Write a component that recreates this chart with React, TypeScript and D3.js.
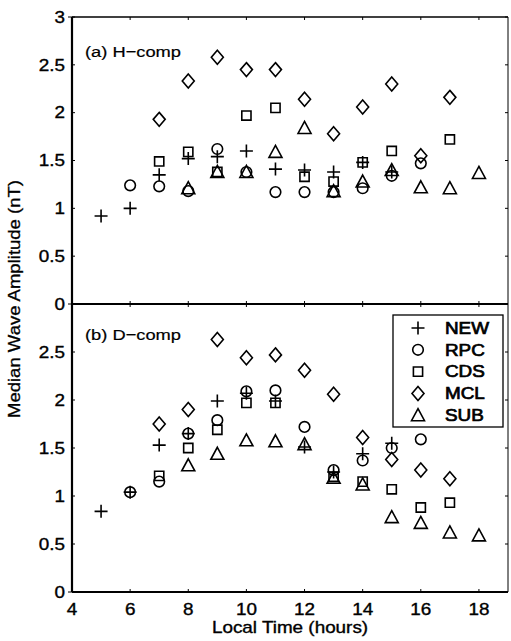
import React from 'react';
import * as d3 from 'd3';

// Panel (a) H-comp: local hour and median amplitude (nT) per station
const hNewHours = [5, 6, 7, 8, 9, 10, 11, 12, 13, 14, 15];
const hNewVals = [0.92, 1.0, 1.35, 1.52, 1.54, 1.6, 1.41, 1.4, 1.38, 1.48, 1.38];
const hRpcHours = [6, 7, 8, 9, 10, 11, 12, 13, 14, 15, 16];
const hRpcVals = [1.24, 1.23, 1.18, 1.62, 1.38, 1.17, 1.17, 1.17, 1.21, 1.34, 1.47];
const hCdsHours = [7, 8, 9, 10, 11, 12, 13, 14, 15, 17];
const hCdsVals = [1.49, 1.59, 1.38, 1.97, 2.05, 1.33, 1.28, 1.48, 1.6, 1.72];
const hMclHours = [7, 8, 9, 10, 11, 12, 13, 14, 15, 16, 17];
const hMclVals = [1.93, 2.33, 2.58, 2.45, 2.45, 2.14, 1.78, 2.06, 2.3, 1.55, 2.16];
const hSubHours = [8, 9, 10, 11, 12, 13, 14, 15, 16, 17, 18];
const hSubVals = [1.21, 1.38, 1.38, 1.59, 1.84, 1.18, 1.28, 1.4, 1.22, 1.21, 1.37];

// Panel (b) D-comp
const dNewHours = [5, 6, 7, 8, 9, 10, 11, 12, 13, 14, 15];
const dNewVals = [0.84, 1.04, 1.53, 1.65, 1.99, 2.07, 1.99, 1.51, 1.25, 1.44, 1.55];
const dRpcHours = [6, 7, 8, 9, 10, 11, 12, 13, 14, 15, 16];
const dRpcVals = [1.04, 1.15, 1.65, 1.79, 2.09, 2.1, 1.72, 1.27, 1.37, 1.5, 1.59];
const dCdsHours = [7, 8, 9, 10, 11, 13, 14, 15, 16, 17];
const dCdsVals = [1.21, 1.5, 1.69, 1.97, 1.97, 1.2, 1.15, 1.07, 0.88, 0.93];
const dMclHours = [7, 8, 9, 10, 11, 12, 13, 14, 15, 16, 17];
const dMclVals = [1.75, 1.9, 2.63, 2.44, 2.47, 2.31, 2.06, 1.61, 1.38, 1.27, 1.18];
const dSubHours = [8, 9, 10, 11, 12, 13, 14, 15, 16, 17, 18];
const dSubVals = [1.32, 1.44, 1.58, 1.57, 1.54, 1.19, 1.12, 0.78, 0.72, 0.62, 0.59];

const stations = ['NEW', 'RPC', 'CDS', 'MCL', 'SUB'];
const xTicks = [4, 6, 8, 10, 12, 14, 16, 18];
const yTicksTop = [0, 0.5, 1, 1.5, 2, 2.5, 3];
const yTicksBottom = [0, 0.5, 1, 1.5, 2, 2.5];

const W = 511;
const H = 641;
const left = 72;
const right = 508;
const top = 17;
const mid = 304;
const bottom = 592;
const font = 'Liberation Sans, Arial, Helvetica, sans-serif';
const stretch = 1.18; // the scanned lettering is wide

const x = d3.scaleLinear().domain([4, 19]).range([left, right]);
const yTop = d3.scaleLinear().domain([0, 3]).range([mid, top]);
const yBot = d3.scaleLinear().domain([0, 3]).range([bottom, mid]);

// wide text, anchored at (tx, ty)
const T = ({ tx, ty, anchor = 'start', size = 16, heavy = 0.35, dy, children }: any) => (
  <text
    transform={`translate(${tx},${ty}) scale(${stretch},1)`}
    textAnchor={anchor}
    dy={dy}
    fontSize={size}
    fontFamily={font}
    fill="#000"
    stroke="#000"
    strokeWidth={heavy}
  >
    {children}
  </text>
);

// MATLAB-style marker outlines
const markerPath = (name: string, cx: number, cy: number) => {
  switch (name) {
    case 'NEW':
      return `M${cx - 6.5},${cy}H${cx + 6.5}M${cx},${cy - 6.5}V${cy + 6.5}`;
    case 'RPC': {
      const p = d3.path();
      p.arc(cx, cy, 5.3, 0, Math.PI * 2);
      return p.toString();
    }
    case 'CDS':
      return `M${cx - 4.6},${cy - 4.6}H${cx + 4.6}V${cy + 4.6}H${cx - 4.6}Z`;
    case 'MCL':
      return `M${cx},${cy - 7}L${cx + 6},${cy}L${cx},${cy + 7}L${cx - 6},${cy}Z`;
    default:
      return `M${cx},${cy - 6.5}L${cx + 6.5},${cy + 5.5}L${cx - 6.5},${cy + 5.5}Z`;
  }
};

type Series = { name: string; hours: number[]; vals: number[] };

const topSeries: Series[] = [
  { name: 'NEW', hours: hNewHours, vals: hNewVals },
  { name: 'RPC', hours: hRpcHours, vals: hRpcVals },
  { name: 'CDS', hours: hCdsHours, vals: hCdsVals },
  { name: 'MCL', hours: hMclHours, vals: hMclVals },
  { name: 'SUB', hours: hSubHours, vals: hSubVals },
];
const bottomSeries: Series[] = [
  { name: 'NEW', hours: dNewHours, vals: dNewVals },
  { name: 'RPC', hours: dRpcHours, vals: dRpcVals },
  { name: 'CDS', hours: dCdsHours, vals: dCdsVals },
  { name: 'MCL', hours: dMclHours, vals: dMclVals },
  { name: 'SUB', hours: dSubHours, vals: dSubVals },
];

const Panel = ({ series, y, label, labelY, yTicks, y0, y1 }: any) => (
  <g>
    {/* inward ticks on all four sides */}
    {yTicks.map((t: number) => (
      <g key={'y' + t}>
        <line x1={left} x2={left + 3} y1={y(t)} y2={y(t)} stroke="#000" />
        <line x1={right} x2={right - 3} y1={y(t)} y2={y(t)} stroke="#000" />
        <T tx={left - 7} ty={y(t)} dy="0.36em" anchor="end">
          {t}
        </T>
      </g>
    ))}
    {xTicks.map((t) => (
      <g key={'x' + t}>
        <line x1={x(t)} x2={x(t)} y1={y0} y2={y0 - 3} stroke="#000" />
        <line x1={x(t)} x2={x(t)} y1={y1} y2={y1 + 3} stroke="#000" />
      </g>
    ))}
    <T tx={85} ty={labelY} size={15.5} heavy={0.2}>
      {label}
    </T>
    {series.map((s: Series) =>
      s.hours.map((h, i) => (
        <path
          key={s.name + h}
          d={markerPath(s.name, x(h), y(s.vals[i]))}
          fill="none"
          stroke="#000"
          strokeWidth={1.6}
        />
      ))
    )}
  </g>
);

export default function App() {
  const legendX = 393;
  const legendY = 315;
  return (
    <svg width={W} height={H} style={{ position: 'absolute', left: 0, top: 0 }}>
      <rect width={W} height={H} fill="#fff" />
      <Panel series={topSeries} y={yTop} label="(a) H−comp" labelY={57} yTicks={yTicksTop} y0={mid} y1={top} />
      <Panel series={bottomSeries} y={yBot} label="(b) D−comp" labelY={340} yTicks={yTicksBottom} y0={bottom} y1={mid} />

      {/* frame */}
      <line x1={left} x2={right} y1={top} y2={top} stroke="#000" strokeWidth={1.3} />
      <line x1={left} x2={right} y1={mid} y2={mid} stroke="#000" strokeWidth={1.8} />
      <line x1={left} x2={right} y1={bottom} y2={bottom} stroke="#000" strokeWidth={1.8} />
      <line x1={left} x2={left} y1={top} y2={bottom} stroke="#000" strokeWidth={2.2} />
      <line x1={right} x2={right} y1={top} y2={bottom} stroke="#000" strokeWidth={1} />
      <line x1={left - 4} x2={left} y1={top} y2={top} stroke="#000" />
      <line x1={left - 4} x2={left} y1={mid} y2={mid} stroke="#000" />
      <line x1={left - 4} x2={left} y1={bottom} y2={bottom} stroke="#000" />

      {/* x tick labels */}
      {xTicks.map((t) => (
        <T key={t} tx={x(t)} ty={615} anchor="middle">
          {t}
        </T>
      ))}
      <T tx={x(11.5)} ty={633} anchor="middle">
        Local Time (hours)
      </T>
      <text
        transform={`translate(20, ${299}) rotate(-90)`}
        textAnchor="middle"
        fontSize={16}
        fontFamily={font}
        stroke="#000"
        strokeWidth={0.3}
        textLength={238}
        lengthAdjust="spacingAndGlyphs"
      >
        Median Wave Amplitude (nT)
      </text>

      {/* legend */}
      <rect x={legendX} y={legendY} width={110} height={112} fill="#fff" stroke="#000" strokeWidth={1.3} />
      {stations.map((s, i) => {
        const cy = legendY + 13 + i * 21.8;
        return (
          <g key={s}>
            <path d={markerPath(s, legendX + 25, cy)} fill="none" stroke="#000" strokeWidth={1.6} />
            <T tx={legendX + 52} ty={cy} dy="0.36em" heavy={0.7}>
              {s}
            </T>
          </g>
        );
      })}
    </svg>
  );
}
